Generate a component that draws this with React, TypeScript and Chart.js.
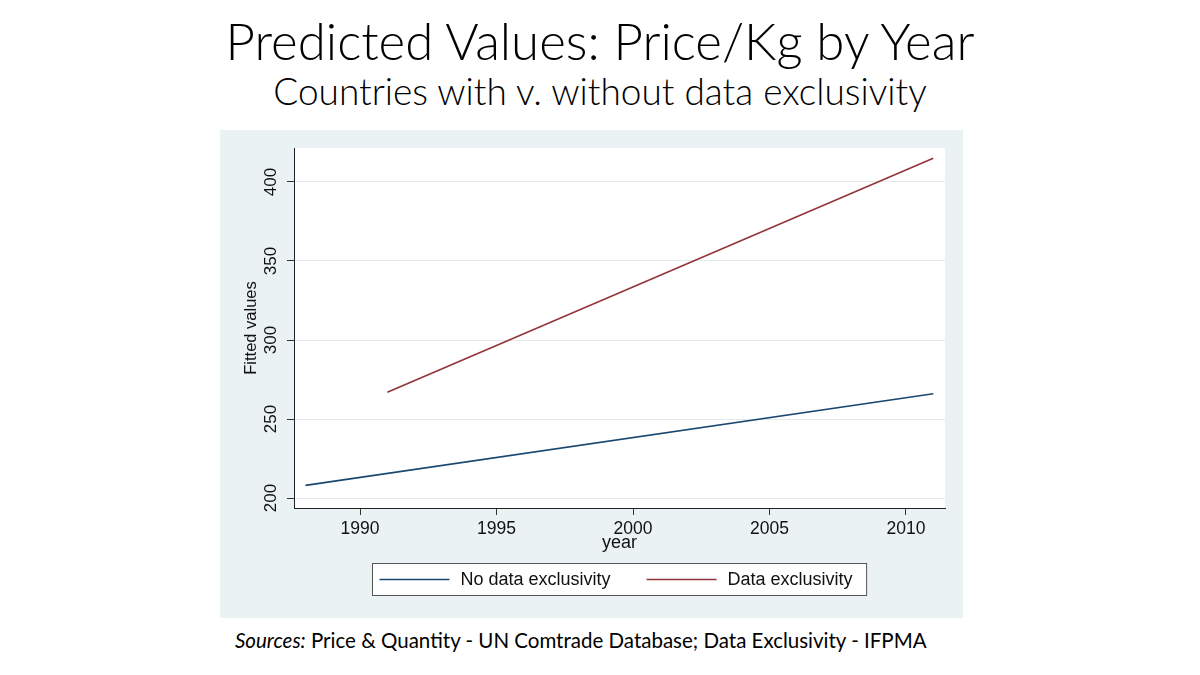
import React, { useEffect, useRef } from 'react';
import { Chart, registerables } from 'chart.js';

Chart.register(...registerables);

const TITLE = 'Predicted Values: Price/Kg by Year';
const SUBTITLE = 'Countries with v. without data exclusivity';
const SOURCE_LABEL = 'Sources:';
const SOURCE_TEXT = ' Price & Quantity - UN Comtrade Database; Data Exclusivity - IFPMA';

const SERIES_LABELS = ['No data exclusivity', 'Data exclusivity'];
const NO_DE_YEARS = [1988, 2011];
const NO_DE_VALUES = [208, 266];
const DE_YEARS = [1991, 2011];
const DE_VALUES = [267, 415];

const X_TICKS = [1990, 1995, 2000, 2005, 2010];
const Y_TICKS = [200, 250, 300, 350, 400];
const X_RANGE = [1987.58, 2011.43];
const Y_RANGE = [193.7, 421.5];
const X_TITLE = 'year';
const Y_TITLE = 'Fitted values';

const COLORS = ['#1a476f', '#90353b'];
const PANEL_BG = '#eaf2f3';
const AXIS_FONT = "'Liberation Sans', Arial, sans-serif";

const legendPlugin = {
  id: 'boxLegend',
  afterDraw(chart: any) {
    const { ctx, chartArea } = chart;
    const ds = chart.data.datasets;
    ctx.save();
    ctx.font = `18px ${AXIS_FONT}`;
    const sample = 70;
    const gap = 11;
    const colGap = 36;
    const padL = 7;
    const padR = 14;
    const widths = ds.map((d: any) => sample + gap + ctx.measureText(d.label).width);
    const total = padL + widths.reduce((a: number, b: number) => a + b, 0) + colGap * (ds.length - 1) + padR;
    const cx = (chartArea.left + chartArea.right) / 2;
    const left = Math.round(cx - total / 2) + 0.5;
    const top = 433.5;
    const h = 32;
    ctx.fillStyle = '#ffffff';
    ctx.fillRect(left, top, total, h);
    ctx.strokeStyle = '#555555';
    ctx.lineWidth = 1;
    ctx.strokeRect(left, top, total, h);
    let x = left + padL;
    const y = top + h / 2;
    ds.forEach((d: any, i: number) => {
      ctx.strokeStyle = d.borderColor;
      ctx.lineWidth = 1.5;
      ctx.beginPath();
      ctx.moveTo(x, y);
      ctx.lineTo(x + sample, y);
      ctx.stroke();
      ctx.fillStyle = '#111111';
      ctx.textBaseline = 'middle';
      ctx.textAlign = 'left';
      ctx.fillText(d.label, x + sample + gap, y + 1);
      x += widths[i] + colGap;
    });
    ctx.restore();
  },
};

function ChartCanvas() {
  const ref = useRef<HTMLCanvasElement | null>(null);
  useEffect(() => {
    if (!ref.current) return;
    const chart = new Chart(ref.current, {
      type: 'line',
      data: {
        datasets: [
          {
            label: SERIES_LABELS[0],
            data: NO_DE_YEARS.map((x, i) => ({ x, y: NO_DE_VALUES[i] })),
            borderColor: COLORS[0],
            borderWidth: 1.6,
            pointRadius: 0,
            fill: false,
          },
          {
            label: SERIES_LABELS[1],
            data: DE_YEARS.map((x, i) => ({ x, y: DE_VALUES[i] })),
            borderColor: COLORS[1],
            borderWidth: 1.6,
            pointRadius: 0,
            fill: false,
          },
        ],
      },
      options: {
        animation: false,
        responsive: false,
        maintainAspectRatio: false,
        layout: { padding: { left: 0, top: 18, right: 18, bottom: 60 } },
        plugins: { legend: { display: false }, tooltip: { enabled: false }, title: { display: false } },
        scales: {
          x: {
            type: 'linear',
            min: X_RANGE[0],
            max: X_RANGE[1],
            afterBuildTicks: (s: any) => { s.ticks = X_TICKS.map((v) => ({ value: v })); },
            afterFit: (s: any) => { s.height = 50; },
            grid: { drawOnChartArea: false, drawTicks: true, tickLength: 7, tickColor: '#333333' },
            border: { display: true, color: '#222222', width: 1 },
            ticks: {
              font: { family: AXIS_FONT, size: 17.5 },
              color: '#111111',
              padding: 4,
              maxRotation: 0,
              autoSkip: false,
              callback: (v: any) => String(v),
            },
            title: {
              display: true,
              text: X_TITLE,
              font: { family: AXIS_FONT, size: 18 },
              color: '#111111',
              padding: { top: 0, bottom: 4 },
            },
          },
          y: {
            type: 'linear',
            min: Y_RANGE[0],
            max: Y_RANGE[1],
            afterBuildTicks: (s: any) => { s.ticks = Y_TICKS.map((v) => ({ value: v })); },
            afterFit: (s: any) => { s.width = 74; },
            grid: { color: '#e3ebee', lineWidth: 1, drawTicks: true, tickLength: 7, tickColor: '#333333' },
            border: { display: true, color: '#222222', width: 1 },
            ticks: {
              font: { family: AXIS_FONT, size: 17 },
              color: '#111111',
              padding: 2,
              minRotation: 90,
              maxRotation: 90,
              crossAlign: 'center',
              autoSkip: false,
              callback: (v: any) => String(v),
            },
            title: {
              display: true,
              text: Y_TITLE,
              font: { family: AXIS_FONT, size: 16.5 },
              color: '#111111',
              padding: { top: 22, bottom: 0 },
            },
          },
        },
      },
      plugins: [
        {
          id: 'plotBg',
          beforeDraw(c: any) {
            const { ctx, chartArea } = c;
            ctx.save();
            ctx.fillStyle = PANEL_BG;
            ctx.fillRect(0, 0, c.width, c.height);
            ctx.fillStyle = '#ffffff';
            ctx.fillRect(chartArea.left, chartArea.top, chartArea.right - chartArea.left, chartArea.bottom - chartArea.top);
            ctx.restore();
          },
        },
        legendPlugin,
      ],
    } as any);
    return () => chart.destroy();
  }, []);
  return <canvas ref={ref} width={743} height={488} style={{ width: 743, height: 488, display: 'block' }} />;
}

export default function App() {
  return (
    <div style={{ position: 'fixed', left: 0, top: 0, width: 1200, height: 675, background: '#ffffff', overflow: 'hidden' }}>
      <div style={{ position: 'absolute', left: 0, width: 1200, top: 15, textAlign: 'center', fontFamily: 'Lato, sans-serif', fontWeight: 300, fontSize: 51, lineHeight: 1, color: '#000' }}>
        {TITLE}
      </div>
      <div style={{ position: 'absolute', left: 0, width: 1200, top: 72, textAlign: 'center', fontFamily: 'Lato, sans-serif', fontWeight: 300, fontSize: 37, lineHeight: 1, color: '#000' }}>
        {SUBTITLE}
      </div>
      <div style={{ position: 'absolute', left: 220, top: 130 }}>
        <ChartCanvas />
      </div>
      <div style={{ position: 'absolute', left: 235, top: 630, whiteSpace: 'pre', fontFamily: 'Lato, sans-serif', fontSize: 20.5, lineHeight: 1, color: '#000' }}>
        <i>{SOURCE_LABEL}</i>
        {SOURCE_TEXT}
      </div>
    </div>
  );
}
